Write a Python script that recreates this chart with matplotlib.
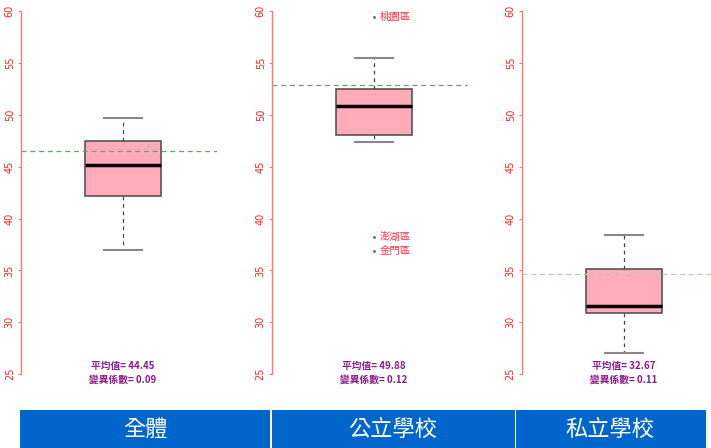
import matplotlib.pyplot as plt
from matplotlib.patches import Rectangle

plt.rcParams['font.family'] = ['Noto Sans CJK TC', 'DejaVu Sans']

# box statistics
groups = ['全體', '公立學校', '私立學校']
q1 = [42.19, 48.07, 30.84]
medians = [45.21, 50.87, 31.61]
q3 = [47.52, 52.54, 35.12]
whisker_low = [36.92, 47.37, 27.02]
whisker_high = [49.71, 55.53, 38.46]
ref_lines = [46.5, 52.86, 34.67]
means = [44.45, 49.88, 32.67]
cvs = [0.09, 0.12, 0.11]
outlier_vals = [[], [59.48, 38.2, 36.9], []]
outlier_names = [[], ['桃園區', '澎湖區', '金門區'], []]
ref_colors = ['#6f9f6f', '#6f9f6f', '#a9d6a9']
yticks = [25, 30, 35, 40, 45, 50, 55, 60]

W, H = 711, 448
fig = plt.figure(figsize=(W / 100, H / 100), dpi=100)

axis_x = [21, 272, 522]
top_px, bot_px = 11.3, 374
for i in range(3):
    left = axis_x[i] / W
    ax = fig.add_axes([left, 1 - bot_px / H, 196 / W, (bot_px - top_px) / H])
    ax.set_xlim(0.48, 1.48)
    ax.set_ylim(25, 60)
    stats = [dict(med=medians[i], q1=q1[i], q3=q3[i], whislo=whisker_low[i],
                  whishi=whisker_high[i], fliers=outlier_vals[i])]
    ax.bxp(stats, positions=[1.0], widths=0.385, capwidths=0.195,
           patch_artist=True, showfliers=True,
           boxprops=dict(facecolor='#ffabb9', edgecolor='#555555', linewidth=1.2),
           medianprops=dict(color='black', linewidth=2.5),
           whiskerprops=dict(color='#444444', linestyle=(0, (3, 3)), linewidth=0.9),
           capprops=dict(color='#888888', linewidth=1.5),
           flierprops=dict(marker='o', markersize=1.2, markerfacecolor='#777777',
                           markeredgecolor='#777777'))
    ax.axhline(ref_lines[i], color=ref_colors[i], linestyle=(0, (4, 3)),
               linewidth=0.9, clip_on=(i != 2))
    for v, name in zip(outlier_vals[i], outlier_names[i]):
        ax.text(1.03, v, name, color='#ff3344', fontsize=7.5, va='center', ha='left')
    ax.text(1.0, 25.8, '平均值= %.2f' % means[i], color='#8b1a8b', fontsize=7,
            fontweight='bold', ha='center', va='center')
    ax.text(1.0, 24.45, '變異係數= %.2f' % cvs[i], color='#8b1a8b', fontsize=7,
            fontweight='bold', ha='center', va='center', clip_on=False)

    for s in ['top', 'right', 'bottom']:
        ax.spines[s].set_visible(False)
    ax.spines['left'].set_color('#ff7777')
    ax.spines['left'].set_linewidth(1.0)
    ax.set_xticks([])
    ax.set_yticks(yticks)
    ax.set_yticklabels([str(t) for t in yticks], rotation=90, va='center',
                       color='#ff2222', fontsize=7, family='DejaVu Sans')
    ax.tick_params(axis='y', length=2.5, color='#ff7777', pad=2)

# blue header band at the bottom
band_h = 38 / H
edges = [20, 270, 514.5, 706]
for i in range(3):
    x0 = edges[i] + (0 if i == 0 else 1.5)
    fig.patches.append(Rectangle((x0 / W, 0), (edges[i + 1] - x0) / W, band_h,
                                 transform=fig.transFigure, facecolor='#0066cc',
                                 edgecolor='none'))
label_x = [145, 393, 610]
for i in range(3):
    fig.text(label_x[i] / W, band_h / 2, groups[i], color='white', fontsize=16,
             ha='center', va='center')

fig.savefig('out.png', dpi=100)
